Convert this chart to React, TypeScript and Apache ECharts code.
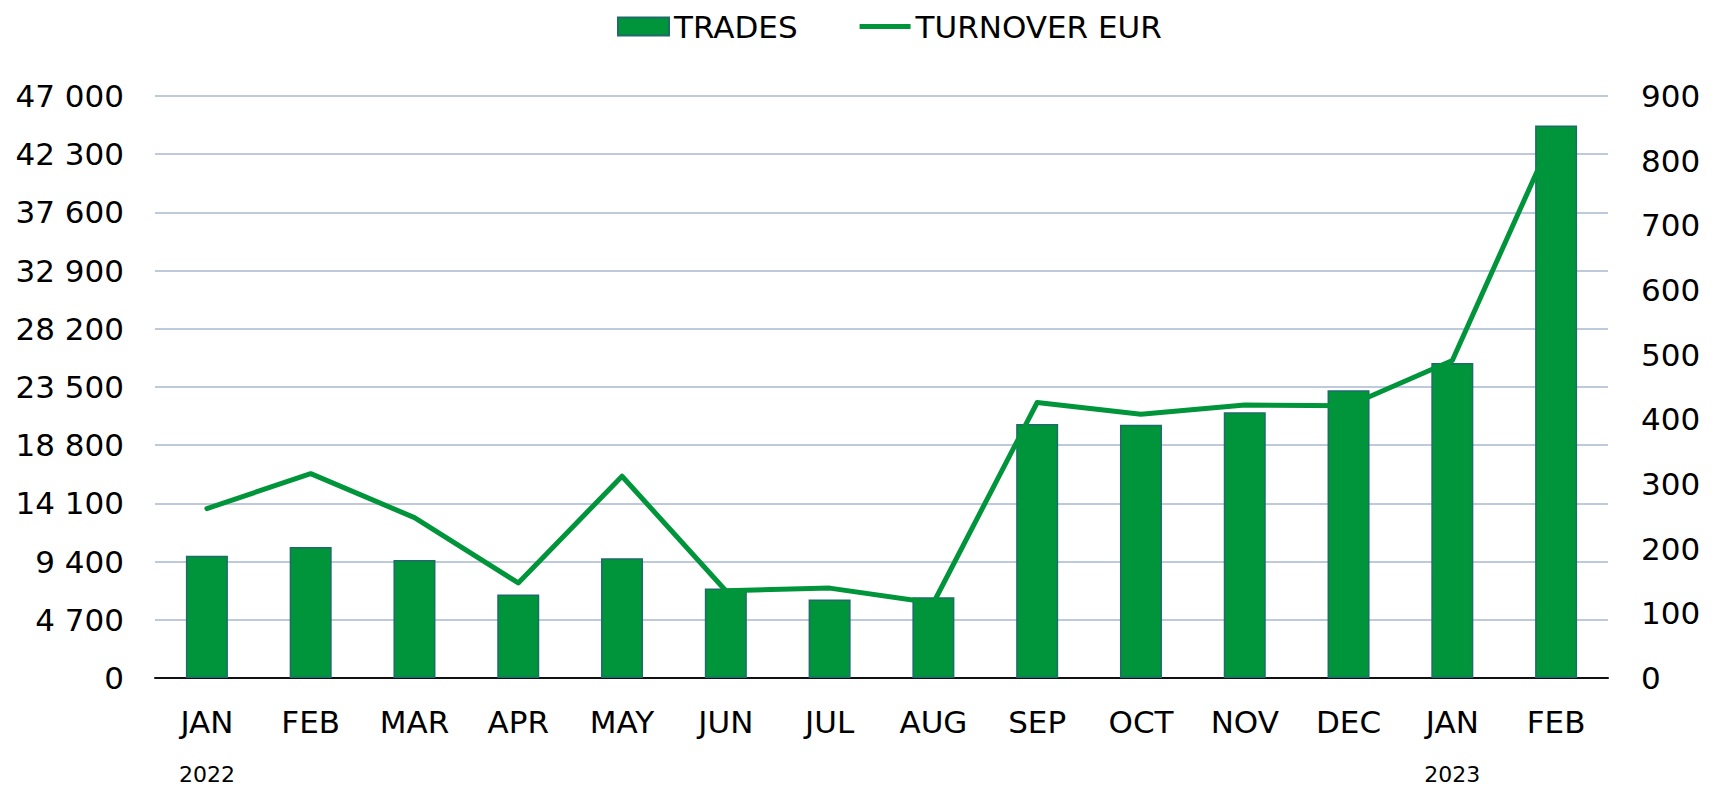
import React, { useEffect, useRef } from "react";
import * as echarts from "echarts";

const months = ["JAN", "FEB", "MAR", "APR", "MAY", "JUN", "JUL", "AUG", "SEP", "OCT", "NOV", "DEC", "JAN", "FEB"];
const years = ["2022", "", "", "", "", "", "", "", "", "", "", "", "2023", ""];
const trades = [9870, 10570, 9520, 6740, 9670, 7230, 6340, 6520, 20510, 20460, 21470, 23240, 25440, 44620];
const turnover = [262, 316, 248, 147, 312, 135, 139, 116, 426, 408, 422, 421, 491, 849];

const GREEN = "#00953A";
const FONT = "DejaVu Sans, Verdana, sans-serif";

const fmtThousands = (v: number) => String(v).replace(/\B(?=(\d{3})+(?!\d))/g, " ");

export default function App() {
  const ref = useRef<HTMLDivElement>(null);
  useEffect(() => {
    if (!ref.current) return;
    const chart = echarts.init(ref.current, undefined, { renderer: "svg" });
    chart.setOption({
      animation: false,
      backgroundColor: "#ffffff",
      textStyle: { fontFamily: FONT, color: "#000" },
      legend: {
        top: 6,
        left: 612,
        itemWidth: 51,
        itemHeight: 18,
        itemGap: 62,
        textStyle: { fontSize: 31, color: "#000", fontFamily: FONT },
        data: [
          { name: "TRADES", icon: "rect" },
          { name: "TURNOVER EUR", icon: "path://M0 0 H100 V10 H0 Z" },
        ],
      },
      grid: { left: 155, right: 107, top: 96, bottom: 112, containLabel: false },
      xAxis: [
        {
          type: "category",
          data: months,
          axisLine: { show: true, lineStyle: { color: "#111", width: 2 } },
          axisTick: { show: false },
          axisLabel: { interval: 0, margin: 28, fontSize: 31, color: "#000", fontFamily: FONT },
        },
        {
          type: "category",
          data: months,
          position: "bottom",
          axisLine: { show: false },
          axisTick: { show: false },
          splitLine: { show: false },
          axisLabel: {
            interval: 0,
            margin: 85,
            fontSize: 22,
            color: "#000",
            fontFamily: FONT,
            formatter: (_v: string, i: number) => years[i],
          },
        },
      ],
      yAxis: [
        {
          type: "value",
          min: 0,
          max: 47000,
          interval: 4700,
          axisLine: { show: false },
          axisTick: { show: false },
          splitLine: { show: true, lineStyle: { color: "#A8B9CF", width: 1.5 } },
          axisLabel: { margin: 31, fontSize: 31, color: "#000", fontFamily: FONT, formatter: (v: number) => fmtThousands(v) },
        },
        {
          type: "value",
          min: 0,
          max: 900,
          interval: 100,
          position: "right",
          axisLine: { show: false },
          axisTick: { show: false },
          splitLine: { show: false },
          axisLabel: { margin: 33, fontSize: 31, color: "#000", fontFamily: FONT },
        },
      ],
      series: [
        {
          name: "TRADES",
          type: "bar",
          data: trades,
          xAxisIndex: 0,
          yAxisIndex: 0,
          barWidth: 42,
          itemStyle: { color: GREEN, borderColor: "#1E6B6A", borderWidth: 1.5 },
        },
        {
          name: "TURNOVER EUR",
          type: "line",
          data: turnover,
          xAxisIndex: 0,
          yAxisIndex: 1,
          symbol: "none",
          lineStyle: { color: GREEN, width: 5, cap: "round", join: "round" },
          itemStyle: { color: GREEN },
          z: 3,
        },
      ],
    });
    return () => chart.dispose();
  }, []);
  return <div ref={ref} style={{ position: "fixed", left: 0, top: 0, width: 1715, height: 790 }} />;
}
